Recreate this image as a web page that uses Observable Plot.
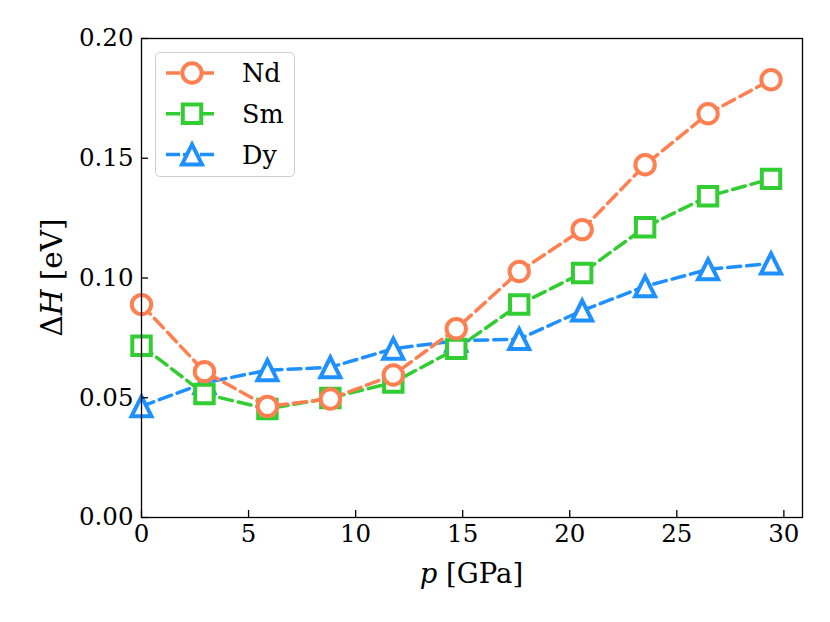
<!DOCTYPE html>
<html><head><meta charset="utf-8">
<script src="https://cdn.jsdelivr.net/npm/d3@7"></script>
<script src="https://cdn.jsdelivr.net/npm/@observablehq/plot@0.6"></script>
<style>
body{margin:0;background:#fff;}
#wrap{position:relative;width:830px;height:622px;}
#legend{position:absolute;left:155px;top:52px;width:140px;height:125px;border:1.3px solid #cfcfcf;border-radius:5px;background:rgba(255,255,255,0.8);box-sizing:border-box;}
</style></head><body><div id="wrap"><div id="legend"></div></div>
<script>
// ---- data ----
const pressure = [0, 2.94, 5.88, 8.82, 11.76, 14.7, 17.64, 20.58, 23.52, 26.46, 29.4];
const nd = [0.0889, 0.0609, 0.0464, 0.0495, 0.0595, 0.0788, 0.1027, 0.1202, 0.1473, 0.1686, 0.1828];
const sm = [0.0717, 0.0516, 0.0453, 0.0499, 0.0564, 0.0704, 0.0889, 0.1021, 0.1212, 0.1341, 0.1414];
const dy = [0.0464, 0.0562, 0.0615, 0.0627, 0.0705, 0.0738, 0.0745, 0.0864, 0.0965, 0.1036, 0.1061];
const seriesNames = ["Nd", "Sm", "Dy"];
const seriesColors = ["#FF7F50", "#32CD32", "#1E90FF"];
const xTicks = [0, 5, 10, 15, 20, 25, 30];
const yTicks = [0, 0.05, 0.10, 0.15, 0.20];
const xLabel = ["p", " [GPa]"];
const yLabel = ["\u0394", "H", " [eV]"];

// ---- symbols ----
const symCircle = {draw(ctx, size){const r=Math.sqrt(size/Math.PI); ctx.moveTo(r,0); ctx.arc(0,0,r,0,2*Math.PI);}};
const symSquare = {draw(ctx, size){const r=Math.sqrt(size/Math.PI)*0.95; ctx.rect(-r,-r,2*r,2*r);}};
const symTri = {draw(ctx, size){const r=Math.sqrt(size/Math.PI)*1.03; ctx.moveTo(0,-r); ctx.lineTo(r,r); ctx.lineTo(-r,r); ctx.closePath();}};
const symbols = [symCircle, symSquare, symTri];

const seriesValues = [nd, sm, dy];
const tables = seriesValues.map((vals, k) => pressure.map((p, i) => ({p, v: vals[i], s: seriesNames[k]})));

const W = 830, H = 622;
const mL = 141, mR = 28, mT = 38, mB = 105;
const FONT = "DejaVu Serif";
const R = 9.7;

const marks = [];
for (const k of [2, 1, 0]) {
  marks.push(Plot.line(tables[k], {x: "p", y: "v", stroke: seriesColors[k], strokeWidth: 3.5, strokeDasharray: "13,6"}));
  marks.push(Plot.dot(tables[k], {x: "p", y: "v", r: R, symbol: symbols[k], stroke: seriesColors[k], fill: "white", strokeWidth: 4}));
}

const chart = Plot.plot({
  width: W, height: H,
  marginLeft: mL, marginRight: mR, marginTop: mT, marginBottom: mB,
  style: {fontFamily: FONT, fontSize: "24px", color: "black", background: "white"},
  x: {domain: [0, 30.87]},
  y: {domain: [0, 0.2]},
  marks: [
    ...marks,
    Plot.axisX(xTicks, {tickSize: -7, tickPadding: 14, strokeWidth: 1.3, label: null, tickFormat: d => String(d), fontSize: 24.5}),
    Plot.axisY(yTicks, {tickSize: -7, tickPadding: 15, strokeWidth: 1.3, label: null, tickFormat: d3.format(".2f"), fontSize: 24.5}),
    Plot.frame({stroke: "black", strokeWidth: 1.3})
  ]
});
document.getElementById("wrap").prepend(chart);

// axis titles
const svg = d3.select(chart);
const xt = svg.append("text").attr("x", (mL + W - mR) / 2).attr("y", 583)
  .attr("text-anchor", "middle").attr("font-family", FONT).attr("font-size", 27.5).attr("fill", "black");
xt.append("tspan").attr("font-style", "italic").text(xLabel[0]);
xt.append("tspan").text(xLabel[1]);
const yt = svg.append("text").attr("transform", `translate(62,${(mT + H - mB) / 2}) rotate(-90)`)
  .attr("text-anchor", "middle").attr("font-family", FONT).attr("font-size", 29.5).attr("fill", "black");
yt.append("tspan").text(yLabel[0]);
yt.append("tspan").attr("font-style", "italic").text(yLabel[1]);
yt.append("tspan").text(yLabel[2]);

// legend
const lg = d3.select("#legend").append("svg").attr("width", 140).attr("height", 125).style("position","absolute").style("left","-1px").style("top","-1px");
seriesNames.forEach((name, k) => {
  const cy = 21 + k * 40.7;
  lg.append("line").attr("x1", 11).attr("x2", 62).attr("y1", cy).attr("y2", cy)
    .attr("stroke", seriesColors[k]).attr("stroke-width", 3.5).attr("stroke-dasharray", "14,3");
  lg.append("path").attr("d", d3.symbol().type(symbols[k]).size(Math.PI * R * R)())
    .attr("transform", `translate(37,${cy})`).attr("stroke", seriesColors[k]).attr("stroke-width", 4).attr("fill", "white");
  lg.append("text").attr("x", 87).attr("y", cy).attr("dy", "0.36em").attr("font-family", FONT).attr("font-size", 25.5).text(name);
});
</script></body></html>
